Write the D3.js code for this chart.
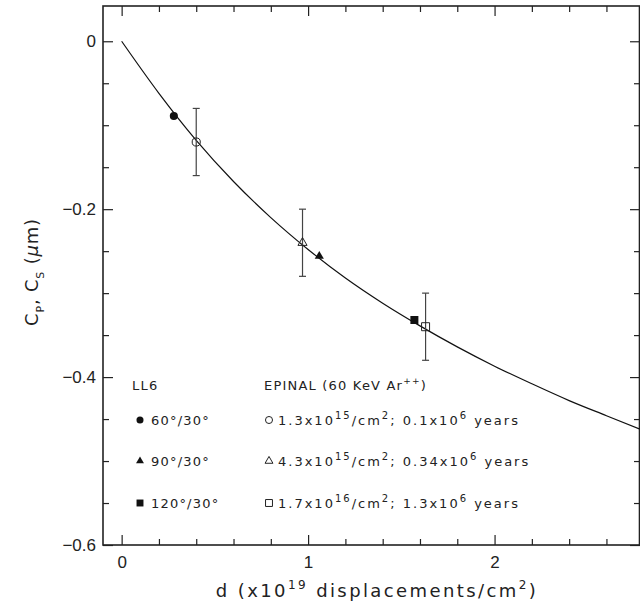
<!DOCTYPE html>
<html>
<head>
<meta charset="utf-8">
<script src="https://cdn.jsdelivr.net/npm/d3@7"></script>
<style>
  body { margin: 0; background: #fff; }
  svg text { fill: #222; }
</style>
</head>
<body>
<svg id="chart" width="640" height="610"></svg>
<script>
// fitted curve
var curveX = [0, 0.2, 0.4, 0.6, 0.8, 1.0, 1.2, 1.4, 1.6, 1.8, 2.0, 2.2, 2.4, 2.6, 2.78];
var curveY = [0, -0.062, -0.118, -0.167, -0.210, -0.248, -0.282, -0.312, -0.339, -0.364, -0.387, -0.408, -0.428, -0.446, -0.462];

// LL6 points (filled)
var ll6X = [0.28, 1.06, 1.57];
var ll6Y = [-0.089, -0.256, -0.332];
var ll6Labels = ["60°/30°", "90°/30°", "120°/30°"];

// EPINAL points (open, with error bars)
var epX = [0.40, 0.97, 1.63];
var epY = [-0.12, -0.24, -0.34];
var epErr = [0.04, 0.04, 0.04];
// [text, superscript] pairs
var epLabels = [
  [["1.3x10", "15"], ["/cm", "2"], ["; 0.1x10", "6"], [" years", ""]],
  [["4.3x10", "15"], ["/cm", "2"], ["; 0.34x10", "6"], [" years", ""]],
  [["1.7x10", "16"], ["/cm", "2"], ["; 1.3x10", "6"], [" years", ""]]
];
var shapes = ["circle", "triangle", "square"];

var xMajor = [0, 1, 2];
var xMinor = [0.2, 0.4, 0.6, 0.8, 1.2, 1.4, 1.6, 1.8, 2.2, 2.4, 2.6];
var yMajor = [0, -0.2, -0.4, -0.6];
var yMinor = [-0.05, -0.1, -0.15, -0.25, -0.3, -0.35, -0.45, -0.5, -0.55];

const margin = {top: 6, right: 0, bottom: 65, left: 103};
const width = 640 - margin.left - margin.right;
const height = 610 - margin.top - margin.bottom;

var svg = d3.select("#chart");
var g = svg.append("g").attr("transform", "translate(" + margin.left + "," + margin.top + ")");

var x = d3.scaleLinear().domain([-0.1, 2.78]).range([0, width]);
var y = d3.scaleLinear().domain([-0.6, 0.042]).range([height, 0]);

var tickFont = "'Liberation Sans', Arial, sans-serif";
var textFont = "'DejaVu Sans', sans-serif";

function styleAxis(sel) {
  sel.select(".domain").remove();
  sel.selectAll(".tick line").attr("stroke", "#222").attr("stroke-width", 1.2);
  sel.selectAll(".tick text").style("font-family", tickFont).style("font-size", "17px").style("fill", "#222");
}

// major ticks
g.append("g").attr("transform", "translate(0," + height + ")")
  .call(d3.axisBottom(x).tickValues(xMajor).tickSize(-10).tickPadding(11).tickFormat(d3.format("d")))
  .call(styleAxis);
g.append("g")
  .call(d3.axisTop(x).tickValues(xMajor).tickSize(-10).tickFormat(""))
  .call(styleAxis);
g.append("g")
  .call(d3.axisLeft(y).tickValues(yMajor).tickSize(-10).tickPadding(7).tickFormat(function(d){ return d === 0 ? "0" : d3.format(".1f")(d); }))
  .call(styleAxis);
g.append("g").attr("transform", "translate(" + width + ",0)")
  .call(d3.axisRight(y).tickValues(yMajor).tickSize(-10).tickFormat(""))
  .call(styleAxis);

// minor ticks
g.append("g").attr("transform", "translate(0," + height + ")")
  .call(d3.axisBottom(x).tickValues(xMinor).tickSize(-6).tickFormat(""))
  .call(styleAxis);
g.append("g")
  .call(d3.axisTop(x).tickValues(xMinor).tickSize(-6).tickFormat(""))
  .call(styleAxis);
g.append("g")
  .call(d3.axisLeft(y).tickValues(yMinor).tickSize(-6).tickFormat(""))
  .call(styleAxis);
g.append("g").attr("transform", "translate(" + width + ",0)")
  .call(d3.axisRight(y).tickValues(yMinor).tickSize(-6).tickFormat(""))
  .call(styleAxis);

// frame
g.append("rect")
  .attr("x", 0).attr("y", 0)
  .attr("width", width - 0.5).attr("height", height)
  .attr("fill", "none").attr("stroke", "#222").attr("stroke-width", 1.6);

// curve
var line = d3.line()
  .x(function(d){ return x(d[0]); })
  .y(function(d){ return y(d[1]); })
  .curve(d3.curveMonotoneX);
g.append("path")
  .datum(d3.zip(curveX, curveY))
  .attr("d", line)
  .attr("fill", "none")
  .attr("stroke", "#111")
  .attr("stroke-width", 1.2);

function symbolFor(name, big) {
  var s = big ? 1 : 0.75;
  if (name == "circle") return d3.symbol().type(d3.symbolCircle).size(52 * s)();
  if (name == "triangle") return d3.symbol().type(d3.symbolTriangle).size(36 * s)();
  return d3.symbol().type(d3.symbolSquare).size(64 * s)();
}

// error bars
for (var i = 0; i < epX.length; i++) {
  var cx = x(epX[i]);
  var y1 = y(epY[i] + epErr[i]), y2 = y(epY[i] - epErr[i]);
  g.append("line").attr("x1", cx).attr("x2", cx).attr("y1", y1).attr("y2", y2)
    .attr("stroke", "#444").attr("stroke-width", 1.2);
  g.append("line").attr("x1", cx - 3.5).attr("x2", cx + 3.5).attr("y1", y1).attr("y2", y1)
    .attr("stroke", "#444").attr("stroke-width", 1.2);
  g.append("line").attr("x1", cx - 3.5).attr("x2", cx + 3.5).attr("y1", y2).attr("y2", y2)
    .attr("stroke", "#444").attr("stroke-width", 1.2);
}

// open markers
for (var i = 0; i < epX.length; i++) {
  g.append("path")
    .attr("d", symbolFor(shapes[i], true))
    .attr("transform", "translate(" + x(epX[i]) + "," + y(epY[i]) + ")")
    .attr("fill", "none").attr("stroke", "#222").attr("stroke-width", 1);
}
// filled markers
for (var i = 0; i < ll6X.length; i++) {
  g.append("path")
    .attr("d", symbolFor(shapes[i], true))
    .attr("transform", "translate(" + x(ll6X[i]) + "," + y(ll6Y[i]) + ")")
    .attr("fill", "#111");
}

// text with superscripts: parts = [[text, sup], ...]
function supText(sel, parts, supSize, shift) {
  parts.forEach(function(p, k) {
    var base = sel.append("tspan").text(p[0]);
    if (k > 0 && parts[k - 1][1] !== "") base.attr("dy", shift);
    if (p[1] !== "") {
      sel.append("tspan").attr("dy", -shift).style("font-size", supSize + "px").text(p[1]);
    }
  });
}

// legend
var legendFont = function(sel, ls) {
  sel.style("font-family", textFont).style("font-size", "13px").style("letter-spacing", (ls || 1.2) + "px");
};
svg.append("text").attr("x", 132).attr("y", 390).text("LL6").call(legendFont);
var head = svg.append("text").attr("x", 264).attr("y", 390).call(legendFont);
supText(head, [["EPINAL (60 KeV Ar", "++"], [")", ""]], 9, 6);

var rowY = [420, 461, 503];
for (var i = 0; i < 3; i++) {
  svg.append("path")
    .attr("d", symbolFor(shapes[i], false))
    .attr("transform", "translate(140," + rowY[i] + ")")
    .attr("fill", "#111");
  svg.append("text").attr("x", 151).attr("y", rowY[i] + 5).text(ll6Labels[i]).call(legendFont);

  svg.append("path")
    .attr("d", symbolFor(shapes[i], false))
    .attr("transform", "translate(269," + rowY[i] + ")")
    .attr("fill", "none").attr("stroke", "#222").attr("stroke-width", 1);
  var t = svg.append("text").attr("x", 278).attr("y", rowY[i] + 5).call(legendFont, 2.0);
  supText(t, epLabels[i], 10, 6);
}

// x axis title
var xt = svg.append("text")
  .attr("x", 377).attr("y", 597)
  .attr("text-anchor", "middle")
  .style("font-family", textFont).style("font-size", "18px").style("letter-spacing", "2.4px");
supText(xt, [["d (x10", "19"], [" displacements/cm", "2"], [")", ""]], 12, 8);

// y axis title
var yt = svg.append("text")
  .attr("transform", "translate(38,272) rotate(-90)")
  .attr("text-anchor", "middle")
  .style("font-family", textFont).style("font-size", "18px").style("letter-spacing", "0.8px");
yt.append("tspan").text("C");
yt.append("tspan").attr("dy", 6).style("font-size", "11px").text("P");
yt.append("tspan").attr("dy", -6).text(", C");
yt.append("tspan").attr("dy", 6).style("font-size", "11px").text("S");
yt.append("tspan").attr("dy", -6).text(" (");
yt.append("tspan").style("font-style", "italic").text("\u03bc");
yt.append("tspan").text("m)");
</script>
</body>
</html>
